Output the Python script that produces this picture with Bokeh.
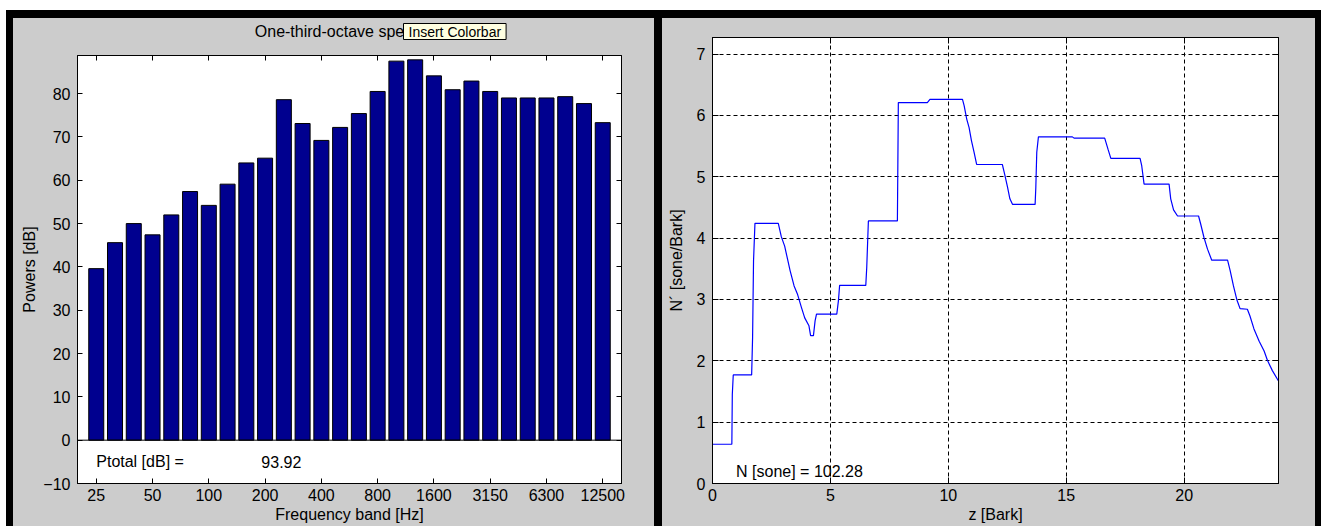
from bokeh.plotting import figure
from bokeh.models import Range1d, FixedTicker, LinearAxis, Label, Span
from bokeh.layouts import row
from bokeh.embed import file_html
from bokeh.resources import INLINE

# ---------------- data ----------------
bands = ["25", "31.5", "40", "50", "63", "80", "100", "125", "160", "200",
         "250", "315", "400", "500", "630", "800", "1000", "1250", "1600", "2000",
         "2500", "3150", "4000", "5000", "6300", "8000", "10000", "12500"]
powers_db = [39.6, 45.6, 50.0, 47.4, 52.0, 57.4, 54.2, 59.1, 64.0, 65.1,
             78.6, 73.1, 69.2, 72.2, 75.4, 80.5, 87.5, 87.8, 84.1, 80.9,
             82.9, 80.5, 79.0, 79.0, 79.0, 79.3, 77.7, 73.3]
tick_bands = ["25", "50", "100", "200", "400", "800", "1600", "3150", "6300", "12500"]
power_ticks = [-10, 0, 10, 20, 30, 40, 50, 60, 70, 80]
ptotal_db = 93.92

bark_z = [0.0, 0.82, 0.84, 0.88, 1.66, 1.70, 1.74, 1.80, 2.79, 2.92,
          3.06, 3.18, 3.29, 3.46, 3.60, 3.77, 3.91, 4.09, 4.16, 4.28,
          4.35, 4.41, 5.27, 5.34, 5.39, 6.50, 6.54, 6.61, 7.84, 7.86,
          7.88, 9.11, 9.22, 10.60, 10.67, 10.78, 10.88, 10.98, 11.09, 11.20,
          12.29, 12.39, 12.51, 12.61, 12.72, 13.68, 13.71, 13.75, 13.82, 15.26,
          15.33, 16.63, 16.77, 16.89, 18.13, 18.20, 18.30, 19.36, 19.43, 19.55,
          19.72, 20.61, 20.70, 20.84, 20.99, 21.17, 21.84, 21.95, 22.09, 22.23,
          22.37, 22.68, 22.79, 22.96, 23.18, 23.39, 23.53, 23.74, 24.0]
loudness = [0.64, 0.64, 1.45, 1.77, 1.77, 2.38, 3.63, 4.24, 4.24, 4.02,
            3.87, 3.66, 3.47, 3.22, 3.09, 2.87, 2.70, 2.57, 2.41, 2.41,
            2.65, 2.76, 2.76, 2.98, 3.23, 3.23, 3.52, 4.28, 4.28, 5.23,
            6.21, 6.21, 6.26, 6.26, 6.16, 5.94, 5.80, 5.59, 5.40, 5.20,
            5.20, 5.04, 4.83, 4.64, 4.55, 4.55, 4.83, 5.40, 5.65, 5.65,
            5.63, 5.63, 5.45, 5.30, 5.30, 5.18, 4.88, 4.88, 4.64, 4.46,
            4.36, 4.36, 4.23, 4.01, 3.82, 3.64, 3.64, 3.47, 3.22, 3.00,
            2.85, 2.84, 2.73, 2.52, 2.32, 2.16, 2.01, 1.84, 1.67]
bark_ticks = [0, 5, 10, 15, 20]
sone_ticks = [0, 1, 2, 3, 4, 5, 6, 7]
n_total = 102.28

# ---------------- style ----------------
FONT = "Liberation Sans"
GRAY = "#CCCCCC"
BAR = "#00008F"


def style_axis(ax, ticks, show_labels=True, tick_len=5):
    ax.ticker = FixedTicker(ticks=ticks)
    ax.major_tick_in = tick_len
    ax.major_tick_out = 0
    ax.minor_tick_line_color = None
    ax.axis_line_color = "black"
    ax.major_tick_line_color = "black"
    ax.major_label_text_font = FONT
    ax.major_label_text_font_size = "16px"
    ax.major_label_text_color = "black"
    ax.major_label_standoff = 5
    ax.axis_label_text_font = FONT
    ax.axis_label_text_font_size = "16px"
    ax.axis_label_text_font_style = "normal"
    ax.axis_label_text_color = "black"
    if not show_labels:
        ax.major_label_text_font_size = "0px"
        ax.major_label_text_color = None
        ax.major_label_standoff = 0


# ---------------- left: one-third-octave spectrum ----------------
band_pos = list(range(1, len(bands) + 1))
tick_pos = [bands.index(b) + 1 for b in tick_bands]

p1 = figure(width=641, height=508, x_range=Range1d(0, len(bands) + 1),
            y_range=Range1d(-10, 88.8), output_backend="svg", toolbar_location=None,
            min_border_left=64, min_border_right=33, min_border_top=37,
            min_border_bottom=43, background_fill_color="white",
            border_fill_color=None, outline_line_color="black",
            styles={"background-color": GRAY}, frame_align=False)
p1.xgrid.visible = False
p1.ygrid.visible = False

p1.title.text = "One-third-octave spectrum"
p1.title.align = "center"
p1.title.text_font = FONT
p1.title.text_font_size = "16px"
p1.title.text_font_style = "normal"
p1.title.text_color = "black"
p1.title.standoff = 0

p1.vbar(x=band_pos, top=powers_db, bottom=0, width=0.8,
        fill_color=BAR, line_color="black", line_width=1)
p1.add_layout(Span(location=0, dimension="width", line_color="black", line_width=1))

style_axis(p1.xaxis[0], tick_pos)
p1.xaxis[0].major_label_overrides = {p: t for p, t in zip(tick_pos, tick_bands)}
p1.xaxis[0].axis_label = "Frequency band [Hz]"
p1.xaxis[0].axis_label_standoff = 2
style_axis(p1.yaxis[0], power_ticks)
p1.yaxis[0].major_label_standoff = 7
p1.yaxis[0].axis_label = "Powers [dB]"
p1.yaxis[0].axis_label_standoff = 2

top1 = LinearAxis()
style_axis(top1, tick_pos, show_labels=False)
p1.add_layout(top1, "above")
right1 = LinearAxis()
style_axis(right1, power_ticks, show_labels=False)
p1.add_layout(right1, "right")

p1.add_layout(Label(x=1, y=-5, text="Ptotal [dB] =", text_align="left",
                    text_baseline="middle", text_font=FONT, text_font_size="16px",
                    text_color="black"))
p1.add_layout(Label(x=9.8, y=-5, text=f"{ptotal_db:.2f}", text_align="left",
                    text_baseline="middle", text_font=FONT, text_font_size="16px",
                    text_color="black"))
# "Insert Colorbar" tooltip box over the end of the title (side panel: not clipped)
p1.add_layout(Label(x=326, y=24, x_units="screen", y_units="screen",
                    text="Insert Colorbar", text_align="left",
                    text_baseline="middle", text_font=FONT, text_font_size="14px",
                    text_color="black", background_fill_color="#FFFFE1",
                    border_line_color="black", padding=(5, 0), level="overlay"),
              "above")

# ---------------- right: specific loudness ----------------
p2 = figure(width=653, height=508, x_range=Range1d(0, 24), y_range=Range1d(0, 7.27),
            output_backend="svg", toolbar_location=None,
            min_border_left=50, min_border_right=37, min_border_top=19,
            min_border_bottom=43, background_fill_color="white",
            border_fill_color=None, outline_line_color="black",
            styles={"background-color": GRAY}, frame_align=False)

p2.line(bark_z, loudness, line_color="#0000FF", line_width=1.2)

style_axis(p2.xaxis[0], bark_ticks, tick_len=6)
p2.xaxis[0].axis_label = "z [Bark]"
p2.xaxis[0].axis_label_standoff = 2
style_axis(p2.yaxis[0], sone_ticks, tick_len=6)
p2.yaxis[0].major_label_standoff = 7
p2.yaxis[0].axis_label = "N´ [sone/Bark]"
p2.yaxis[0].axis_label_standoff = 9
for g, t in ((p2.xgrid[0], bark_ticks), (p2.ygrid[0], sone_ticks)):
    g.ticker = FixedTicker(ticks=t)
    g.grid_line_color = "black"
    g.grid_line_dash = "4 3"
    g.grid_line_width = 1
    g.grid_line_alpha = 1.0

top2 = LinearAxis()
style_axis(top2, bark_ticks, show_labels=False, tick_len=6)
p2.add_layout(top2, "above")
right2 = LinearAxis()
style_axis(right2, sone_ticks, show_labels=False, tick_len=6)
p2.add_layout(right2, "right")

p2.add_layout(Label(x=1, y=0.2, text=f"N [sone] = {n_total:.2f}", text_align="left",
                    text_baseline="middle", text_font=FONT, text_font_size="16px",
                    text_color="black"))

p1.margin = (8, 0, 0, 7)
p2.margin = (8, 6, 0, 8)
layout = row(p1, p2, margin=(10, 0, 0, 6), styles={"background-color": "black"})

open("out.html", "w").write(file_html(layout, INLINE))
